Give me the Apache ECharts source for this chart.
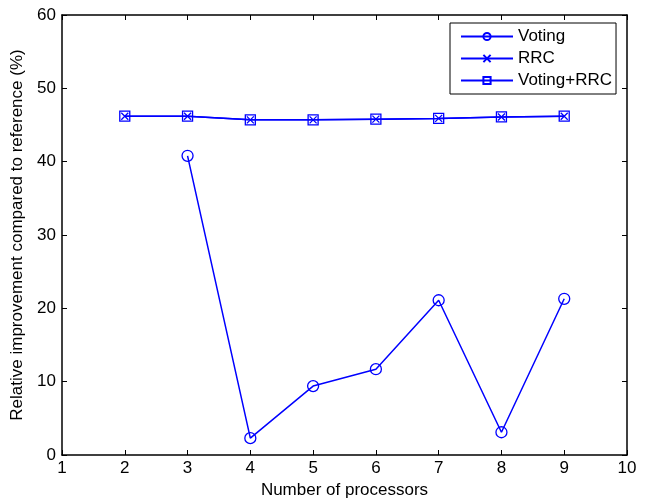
<!DOCTYPE html>
<html>
<head>
<meta charset="utf-8">
<script src="https://cdn.jsdelivr.net/npm/echarts@6/dist/echarts.min.js"></script>
<style>
  html, body { margin:0; padding:0; background:#fff; }
  #main { width:649px; height:504px; }
</style>
</head>
<body>
<div id="main"></div>
<script>
var processors = [2, 3, 4, 5, 6, 7, 8, 9];
var voting     = [null, 40.8, 2.3, 9.4, 11.7, 21.1, 3.1, 21.3];
var rrc        = [46.2, 46.2, 45.7, 45.7, 45.8, 45.9, 46.1, 46.2];
var votingRrc  = [46.2, 46.2, 45.7, 45.7, 45.8, 45.9, 46.1, 46.2];

function pairs(ys){
  var out = [];
  for (var i = 0; i < processors.length; i++) {
    if (ys[i] != null) out.push([processors[i], ys[i]]);
  }
  return out;
}

var BLUE = '#0000ff';
var FONT = 'Liberation Sans';
var FS = 17;

var chart = echarts.init(document.getElementById('main'));

var baseX = {
  type:'value', min:1, max:10, interval:1,
  axisLine:{show:true, onZero:false, lineStyle:{color:'#000', width:1.5}},
  axisTick:{show:true, inside:true, length:5, lineStyle:{color:'#000'}},
  splitLine:{show:false}
};
var baseY = {
  type:'value', min:0, max:60, interval:10,
  axisLine:{show:true, onZero:false, lineStyle:{color:'#000', width:1.5}},
  axisTick:{show:true, inside:true, length:5, lineStyle:{color:'#000'}},
  splitLine:{show:false}
};

function mkSeries(name, ys, symbol, size){
  return {
    name:name,
    type:'line',
    data:pairs(ys),
    symbol:symbol,
    symbolSize:size,
    showAllSymbol:true,
    lineStyle:{color:BLUE, width:1.5},
    itemStyle:{color:'rgba(0,0,0,0)', borderColor:BLUE, borderWidth:1.3},
    emphasis:{disabled:true},
    animation:false
  };
}

var option = {
  animation:false,
  textStyle:{fontFamily:FONT},
  grid:{left:62, right:22, top:15, bottom:44},
  legend:{
    orient:'vertical',
    left:450,
    top:23,
    itemWidth:52,
    itemHeight:9,
    itemGap:5,
    padding:[5, 4, 5, 10],
    borderColor:'#000',
    borderWidth:1,
    borderRadius:0,
    backgroundColor:'#fff',
    textStyle:{fontFamily:FONT, fontSize:FS, color:'#000'},
    data:['Voting', 'RRC', 'Voting+RRC']
  },
  xAxis:[
    Object.assign({}, baseX, {
      position:'bottom',
      name:'Number of processors',
      nameLocation:'middle',
      nameGap:27,
      nameTextStyle:{fontFamily:FONT, fontSize:FS, color:'#000'},
      axisLabel:{fontFamily:FONT, fontSize:FS, color:'#000', margin:5}
    }),
    Object.assign({}, baseX, {position:'top', axisLabel:{show:false}})
  ],
  yAxis:[
    Object.assign({}, baseY, {
      position:'left',
      name:'Relative improvement compared to reference (%)',
      nameLocation:'middle',
      nameGap:31,
      nameTextStyle:{fontFamily:FONT, fontSize:FS, color:'#000'},
      axisLabel:{fontFamily:FONT, fontSize:FS, color:'#000', margin:6}
    }),
    Object.assign({}, baseY, {position:'right', axisLabel:{show:false}})
  ],
  series:[
    mkSeries('Voting', voting, 'circle', 11),
    mkSeries('RRC', rrc, 'path://M0,0L10,10M10,0L0,10', 7),
    mkSeries('Voting+RRC', votingRrc, 'rect', 10)
  ]
};

chart.setOption(option);
</script>
</body>
</html>
